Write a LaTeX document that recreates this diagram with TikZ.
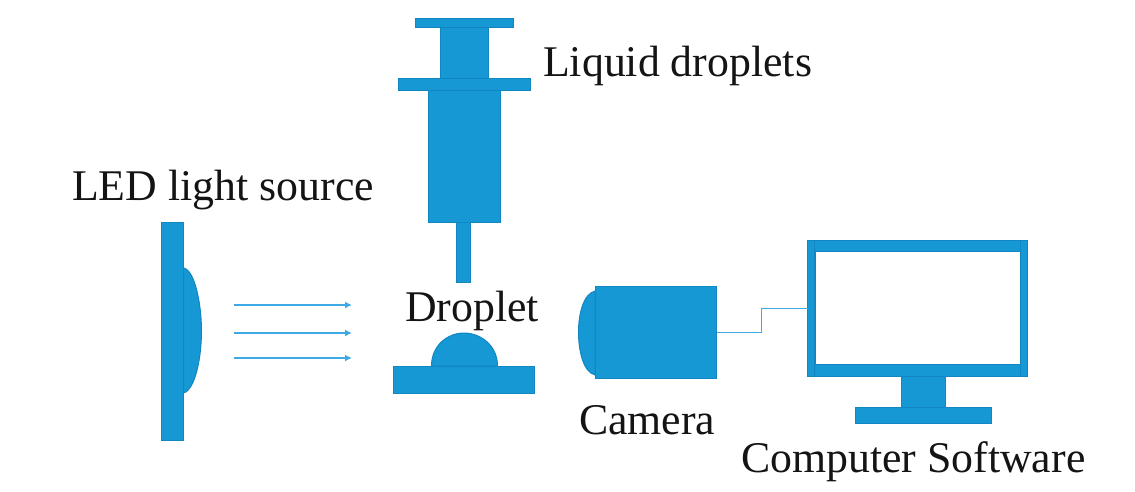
\documentclass[tikz,border=0pt]{standalone}
\usepackage{fontspec}
\setmainfont{Liberation Serif}
\usetikzlibrary{arrows.meta}
\definecolor{bluefill}{HTML}{1698D5}
\definecolor{blueedge}{HTML}{1186C0}
\definecolor{bluewire}{HTML}{3FA9E6}
\tikzset{
  part/.style={draw=blueedge,fill=bluefill,line width=1pt},
  block/.style={part,rectangle,inner sep=0pt,outer sep=0pt},
  wire/.style={draw=bluewire,line width=1.4pt},
  ray/.style={draw=bluewire,line width=1.4pt,-{Latex[length=7pt,width=7pt]}},
  lab/.style={inner sep=0pt,anchor=base west,font=\fontsize{43.8}{46}\selectfont,text=black!92}
}
\begin{document}
\begin{tikzpicture}[x=1pt,y=-1pt]
\useasboundingbox (0,0) rectangle (1135,491);
% LED
\draw[part] (183.5,268) .. controls (195,270) and (201.5,305) .. (201.5,331) .. controls (201.5,358) and (195,390) .. (183.5,393) -- cycle;
\node[block,minimum width=21.5pt,minimum height=218.5pt] (led) at (172.5,331.5) {};
\coordinate (r1s) at (234,305); \coordinate (r1e) at (352,305);
\coordinate (r2s) at (234,333); \coordinate (r2e) at (352,333);
\coordinate (r3s) at (234,358); \coordinate (r3e) at (352,358);
\draw[ray] (r1s) -- (r1e);
\draw[ray] (r2s) -- (r2e);
\draw[ray] (r3s) -- (r3e);
% Syringe
\node[block,minimum width=48pt,minimum height=51pt] (plunger) at (464.5,52.5) {};
\node[block,minimum width=98pt,minimum height=9pt] (top) at (464.5,22.8) {};
\node[block,minimum width=72pt,minimum height=132pt] (barrel) at (464.5,156.3) {};
\node[block,minimum width=132pt,minimum height=12pt] (flange) at (464.5,84.3) {};
\node[block,minimum width=14pt,minimum height=60pt] (needle) at (463.5,252.3) {};
% Droplet and stage
\draw[part] (431.5,366) .. controls (431.5,345) and (448,333) .. (464,333) .. controls (480,333) and (497.5,345) .. (497.5,366) -- cycle;
\node[block,minimum width=141pt,minimum height=27pt] (stage) at (464,379.8) {};
% Camera
\draw[part] (595,291) .. controls (583,294) and (578.5,315) .. (578.5,332) .. controls (578.5,350) and (583,372) .. (595,375) -- cycle;
\node[block,minimum width=121pt,minimum height=92pt] (cam) at (656,332.3) {};
% Monitor
\node[block,minimum width=44pt,minimum height=31pt] (stand) at (923.5,391.8) {};
\node[block,minimum width=136pt,minimum height=16pt] (base) at (923.5,415.3) {};
\node[block,minimum width=220pt,minimum height=136pt] (mon) at (917.5,308.3) {};
\node[draw=blueedge,fill=white,line width=0.6pt,inner sep=0pt,minimum width=205pt,minimum height=113pt] (screen) at (917.5,307.5) {};
\draw[draw=blueedge,line width=0.8pt] (mon.north west -| screen.west) -- (mon.south west -| screen.west);
\draw[draw=blueedge,line width=0.8pt] (mon.north east -| screen.east) -- (mon.south east -| screen.east);
\draw[wire] (cam.east) -- ++(45,0) |- (mon.west);
% Labels
\node[lab] (t1) at (543,76) {Liquid droplets};
\node[lab] (t2) at (72,200) {LED light source};
\node[lab] (t3) at (405,321) {Droplet};
\node[lab] (t4) at (579,434) {Camera};
\node[lab] (t5) at (741,472) {Computer Software};
\end{tikzpicture}
\end{document}
